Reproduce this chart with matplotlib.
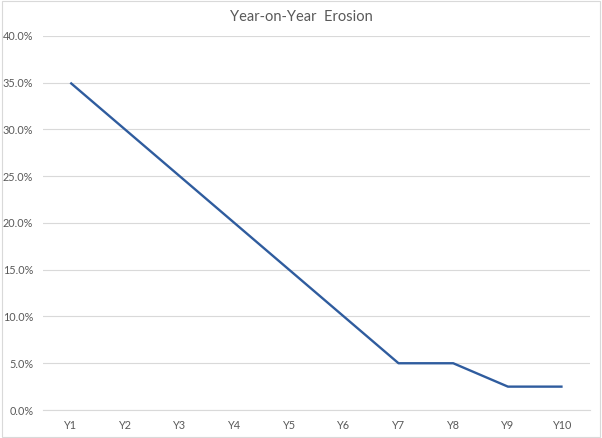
import matplotlib
matplotlib.use("Agg")
import matplotlib.pyplot as plt
from matplotlib.ticker import PercentFormatter, MultipleLocator
from matplotlib.patches import Rectangle

categories = ["Y1", "Y2", "Y3", "Y4", "Y5", "Y6", "Y7", "Y8", "Y9", "Y10"]
erosion = [0.35, 0.30, 0.25, 0.20, 0.15, 0.10, 0.05, 0.05, 0.025, 0.025]
title = "Year-on-Year  Erosion"

plt.rcParams['font.family'] = ['Lato', 'DejaVu Sans']

fig = plt.figure(figsize=(6.02, 4.38), dpi=100)
ax = fig.add_axes([0.0714, 0.0639, 0.9086, 0.8541])

x = list(range(len(categories)))
ax.plot(x, erosion, color='#2F5C9E', lw=1.7, solid_capstyle='butt')

ax.set_xlim(-0.5, len(categories) - 0.5)
ax.set_ylim(0, 0.40)
ax.yaxis.set_major_locator(MultipleLocator(0.05))
ax.yaxis.set_major_formatter(PercentFormatter(1.0, decimals=1))
ax.set_xticks(x)
ax.set_xticklabels(categories)

ax.grid(axis='y', color='#D9D9D9', lw=0.8)
ax.set_axisbelow(True)
for s in ['top', 'right', 'left']:
    ax.spines[s].set_visible(False)
ax.spines['bottom'].set_color('#D9D9D9')
ax.spines['bottom'].set_linewidth(0.8)
ax.tick_params(axis='both', length=0, colors='#595959', labelsize=7.8)
ax.tick_params(axis='y', pad=7)
ax.tick_params(axis='x', pad=7)

fig.text(0.5, 0.962, title, ha='center', va='center', fontsize=10.5, color='#595959')

fig.patches.append(Rectangle((0.003, 0.003), 0.994, 0.994, transform=fig.transFigure,
                             fill=False, edgecolor='#D9D9D9', lw=0.8))

fig.savefig("out.png", dpi=100)
